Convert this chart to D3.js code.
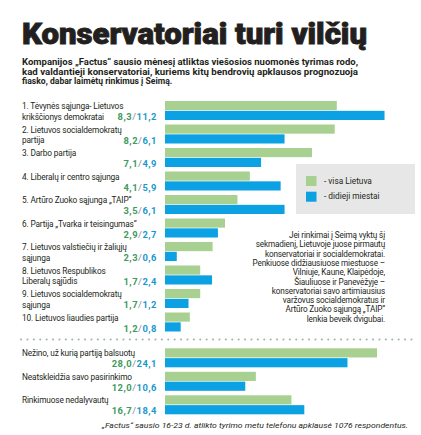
<!DOCTYPE html>
<html>
<head>
<meta charset="utf-8">
<title>Konservatoriai turi vilčių</title>
<style>
  body { margin: 0; background: #fff; }
  svg text { font-family: Roboto, "Noto Sans", sans-serif; fill: #231f20; }
</style>
<script src="https://d3js.org/d3.v7.min.js"></script>
</head>
<body>
<svg id="chart" width="421" height="435"></svg>
<script>
// data
const parties = [
  ["1. Tėvynės sąjunga- Lietuvos", "krikščionys demokratai"],
  ["2. Lietuvos socialdemokratų", "partija"],
  ["3. Darbo partija"],
  ["4. Liberalų ir centro sąjunga"],
  ["5. Artūro Zuoko sąjunga „TAIP“"],
  ["6. Partija „Tvarka ir teisingumas“"],
  ["7. Lietuvos valstiečių ir žaliųjų", "sąjunga"],
  ["8. Lietuvos Respublikos", "Liberalų sąjūdis"],
  ["9. Lietuvos socialdemokratų", "sąjunga"],
  ["10. Lietuvos liaudies partija"]
];
const visaLietuva = [8.3, 8.2, 7.1, 4.1, 3.5, 2.9, 2.3, 1.7, 1.7, 1.2];
const didiejiMiestai = [11.2, 6.1, 4.9, 5.9, 6.1, 2.7, 0.6, 2.4, 1.2, 0.8];

const others = [
  ["Nežino, už kurią partiją balsuotų"],
  ["Neatskleidžia savo pasirinkimo"],
  ["Rinkimuose nedalyvautų"]
];
const othersVisa = [28.0, 12.0, 16.7];
const othersMiestai = [24.1, 10.6, 18.4];

const seriesNames = ["- visa Lietuva", "- didieji miestai"];

const title = "Konservatoriai turi vilčių";
const subtitle = [
  "Kompanijos „Factus“ sausio mėnesį atliktas viešosios nuomonės tyrimas rodo,",
  "kad valdantieji konservatoriai, kuriems kitų bendrovių apklausos prognozuoja",
  "fiasko, dabar laimėtų rinkimus į Seimą."
];
const note = [
  "Jei rinkimai į Seimą vyktų šį",
  "sekmadienį, Lietuvoje juose pirmautų",
  "konservatoriai  ir socialdemokratai.",
  "Penkiuose didžiausiuose miestuose –",
  "Vilniuje, Kaune, Klaipėdoje,",
  "Šiauliuose ir Panevėžyje –",
  "konservatoriai savo artimiausius",
  "varžovus socialdemokratus ir",
  "Artūro Zuoko sąjungą „TAIP“",
  "lenkia beveik dvigubai."
];
const source = "„Factus“ sausio 16-23 d. atlikto tyrimo metu telefonu apklausė 1076 respondentus.";

const GREEN = "#a8d191";
const BLUE = "#0ba1e2";
const GREEN_TXT = "#3d9a62";
const BLUE_TXT = "#1b98cc";

const svg = d3.select("#chart");
const X0 = 165;
const fmt = v => d3.format(".1f")(v).replace(".", ",");

// title block
svg.append("text")
   .attr("x", 22).attr("y", 44)
   .attr("textLength", 345).attr("lengthAdjust", "spacingAndGlyphs")
   .style("font-size", "29px").style("font-weight", 900)
   .style("fill", "#231f20")
   .style("stroke", "#231f20").style("stroke-width", 0.9)
   .text(title);

svg.selectAll(".sub")
   .data(subtitle)
   .join("text")
   .attr("class", "sub")
   .attr("x", 22)
   .attr("y", (d, i) => 65 + i * 9.7)
   .attr("textLength", (d, i) => i < 2 ? 336 : null)
   .attr("lengthAdjust", "spacingAndGlyphs")
   .style("font-size", "8.6px").style("font-weight", "bold")
   .text(d => d);

// scales
const yTop = d3.scaleBand()
               .domain(d3.range(parties.length))
               .range([101, 101 + 23.5 * parties.length - 4.5])
               .paddingInner(4.5 / 23.5);
const yBottom = d3.scaleBand()
                  .domain(d3.range(others.length))
                  .range([348.3, 348.3 + 23.5 * others.length - 4.5])
                  .paddingInner(4.5 / 23.5);
const ySub = d3.scaleBand()
               .domain([0, 1])
               .range([0, yTop.bandwidth()])
               .paddingInner(0.07);

// the printed chart draws the two series at slightly different widths
const xVisa = d3.scaleLinear().domain([0, 10]).range([X0, X0 + 207]);
const xMiestai = d3.scaleLinear().domain([0, 10]).range([X0, X0 + 196]);
const xOthers = d3.scaleLinear().domain([0, 28]).range([X0, 377]);

function drawSection(labels, a, b, y, xa, xb, cls) {
  const g = svg.append("g").attr("class", cls);
  const rows = g.selectAll("g.row")
                .data(labels.map((l, i) => ({ label: l, a: a[i], b: b[i], i: i })))
                .join("g")
                .attr("class", "row")
                .attr("transform", d => `translate(0, ${y(d.i)})`);

  rows.append("rect")
      .attr("x", X0).attr("y", ySub(0))
      .attr("width", d => xa(d.a) - X0)
      .attr("height", ySub.bandwidth())
      .style("fill", GREEN);
  rows.append("rect")
      .attr("x", X0).attr("y", ySub(1))
      .attr("width", d => xb(d.b) - X0)
      .attr("height", ySub.bandwidth())
      .style("fill", BLUE);

  rows.each(function(d) {
    const r = d3.select(this);
    d.label.forEach((line, k) => {
      r.append("text")
       .attr("x", 22).attr("y", 8.2 + k * 10.5)
       .style("font-size", "8.3px")
       .style("letter-spacing", "-0.15px")
       .text(line);
    });
    const v = r.append("text")
               .attr("x", 157).attr("y", 19)
               .attr("text-anchor", "end")
               .style("font-size", "9.4px").style("font-weight", "bold")
               .style("letter-spacing", "0.5px");
    v.append("tspan").style("fill", GREEN_TXT).text(fmt(d.a));
    v.append("tspan").style("fill", "#8a8a8a").style("font-weight", "normal").text("/");
    v.append("tspan").style("fill", BLUE_TXT).text(fmt(d.b));
  });
}

drawSection(parties, visaLietuva, didiejiMiestai, yTop, xVisa, xMiestai, "top");
drawSection(others, othersVisa, othersMiestai, yBottom, xOthers, xOthers, "bottom");

// legend
const legend = svg.append("g").attr("transform", "translate(296, 164)");
legend.append("rect").attr("width", 119).attr("height", 50).style("fill", "#e7e7e7");
const legendColors = [GREEN, BLUE];
legend.selectAll(".lg")
      .data(seriesNames)
      .join("g")
      .attr("class", "lg")
      .attr("transform", (d, i) => `translate(10, ${12 + i * 15.7})`)
      .each(function(d, i) {
        const g = d3.select(this);
        g.append("rect").attr("width", 10.5).attr("height", 10).style("fill", legendColors[i]);
        g.append("text").attr("x", 18).attr("y", 7.5)
         .style("font-size", "8.3px").text(d);
      });

// annotation
svg.selectAll(".note")
   .data(note)
   .join("text")
   .attr("class", "note")
   .attr("x", 385)
   .attr("y", (d, i) => 238 + i * 9.3)
   .attr("text-anchor", "end")
   .style("font-size", "8.2px")
   .style("letter-spacing", "-0.15px")
   .text(d => d);

// dotted divider
svg.append("line")
   .attr("x1", 21).attr("x2", 416)
   .attr("y1", 339.5).attr("y2", 339.5)
   .style("stroke", "#9fb5aa")
   .style("stroke-width", 2)
   .style("stroke-linecap", "round")
   .style("stroke-dasharray", "0.1,6.3");

// source
svg.append("text")
   .attr("x", 408).attr("y", 428)
   .attr("text-anchor", "end")
   .attr("textLength", 306).attr("lengthAdjust", "spacingAndGlyphs")
   .style("font-size", "8px").style("font-style", "italic")
   .text(source);
</script>
</body>
</html>
